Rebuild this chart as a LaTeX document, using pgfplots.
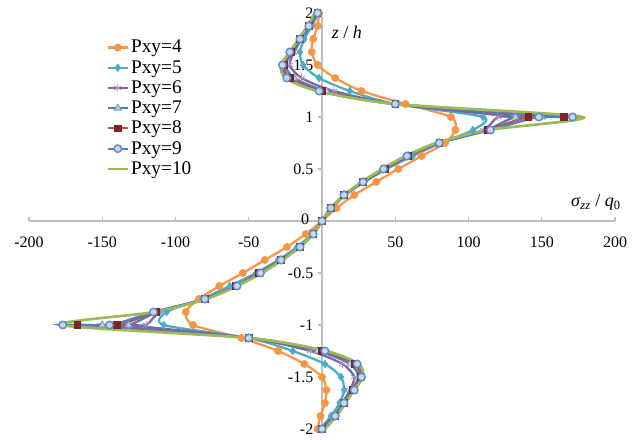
\documentclass[border=0pt]{standalone}
\usepackage{fontspec}
\setmainfont{Liberation Serif}
\usepackage{pgfplots}
\pgfplotsset{compat=1.18}
\definecolor{cA}{RGB}{247,150,70}
\definecolor{cB}{RGB}{75,172,198}
\definecolor{cC}{RGB}{128,100,162}
\definecolor{cD}{RGB}{74,126,187}
\definecolor{cDf}{RGB}{190,208,232}
\definecolor{cE}{RGB}{192,80,77}
\definecolor{cEf}{RGB}{130,35,35}
\definecolor{cF}{RGB}{79,129,189}
\definecolor{cFf}{RGB}{200,215,235}
\definecolor{cG}{RGB}{155,187,89}
\definecolor{axgray}{RGB}{190,190,190}
\begin{document}
\begin{tikzpicture}
\begin{axis}[name=ax, scale only axis, width=439.5pt, height=312pt,
  xmin=-200, xmax=200, ymin=-2, ymax=2, clip=false,
  axis lines=middle, axis line style={draw=axgray, line width=0.8pt, -},
  xtick={-200,-150,-100,-50,0,50,100,150,200},
  xticklabels={-200,-150,-100,-50,0,50,100,150,200},
  ytick={-2,-1.5,-1,-0.5,0,0.5,1,1.5,2},
  yticklabels={-2,-1.5,-1,-0.5,0,0.5,1,1.5,2},
  tick align=outside, major tick length=3pt,
  tick style={draw=axgray, line width=0.8pt},
  x tick style={yshift=3pt},
  ticklabel style={font=\fontsize{12}{14}\selectfont},
  x tick label style={yshift=-5pt},
  /pgf/number format/assume math mode=true,
  xlabel={\textit{σ}\textsubscript{\textit{zz}} / \textit{q}\textsubscript{0}},
  xlabel style={at={(axis cs:187,0.18)}, anchor=center, font=\fontsize{13.5}{15}\selectfont},
  ylabel={\textit{z} / \textit{h}},
  ylabel style={at={(axis cs:17,1.81)}, anchor=center, rotate=0, font=\fontsize{13.5}{15}\selectfont},
  legend style={at={(rel axis cs:0.132,0.94)}, anchor=north west, draw=none, fill=none,
    font=\fontsize{14.5}{15}\selectfont, inner sep=0pt, row sep=1.1pt,
    nodes={inner sep=1.5pt}},
  legend cell align=left,
  legend image code/.code={\draw[mark repeat=2,mark phase=2,#1] plot coordinates {(0cm,0cm) (0.26cm,0cm) (0.52cm,0cm)};},
  every axis plot/.append style={smooth, tension=0.45, line width=1.7pt},
]
\addplot[color=cA, mark=*, mark size=2.7pt, mark options={solid, fill=cA, line width=0.5pt}] coordinates {
(-3,-2) (-1,-1.875) (2,-1.75) (3,-1.625) (0,-1.5) (-12,-1.375) (-30,-1.25) (-55,-1.125) (-88,-1) (-93,-0.875) (-84,-0.75) (-70,-0.625) (-54,-0.5) (-39,-0.375) (-24,-0.25) (-11,-0.125) (0,0) (10,0.125) (22,0.25) (37,0.375) (52,0.5) (68,0.625) (84,0.75) (91,0.875) (88,1) (57,1.125) (27,1.25) (9,1.375) (-3,1.5) (-7,1.625) (-6,1.75) (-3,1.875) (-2,2)};
\addlegendentry{Pxy=4}
\addplot[color=cB, mark=diamond*, mark size=2.8pt, mark options={solid, fill=cB, line width=0.5pt}] coordinates {
(-1,-2) (6,-1.875) (12,-1.75) (15,-1.625) (13,-1.5) (2,-1.375) (-20,-1.25) (-50,-1.125) (-108,-1) (-106,-0.875) (-82,-0.75) (-63,-0.625) (-45,-0.5) (-30,-0.375) (-17,-0.25) (-7,-0.125) (0,0) (7,0.125) (16,0.25) (29,0.375) (44,0.5) (62,0.625) (81,0.75) (103,0.875) (110,1) (50,1.125) (19,1.25) (-2,1.375) (-13,1.5) (-15,1.625) (-12,1.75) (-7,1.875) (-2,2)};
\addlegendentry{Pxy=5}
\addplot[color=cC, mark=asterisk, mark size=3pt, mark options={solid, line width=0.6pt, draw=cC!70}] coordinates {
(-2,-2) (8,-1.875) (14,-1.75) (19,-1.625) (22,-1.5) (14,-1.375) (-8,-1.25) (-50,-1.125) (-132,-1) (-120,-1) (-110,-0.875) (-80,-0.75) (-59,-0.625) (-43,-0.5) (-28,-0.375) (-15,-0.25) (-6,-0.125) (0,0) (6,0.125) (15,0.25) (28,0.375) (43,0.5) (59,0.625) (80,0.75) (110,0.875) (120,1) (132,1) (50,1.125) (8,1.25) (-14,1.375) (-22,1.5) (-19,1.625) (-14,1.75) (-8,1.875) (-3,2)};
\addlegendentry{Pxy=6}
\addplot[color=cD, mark=triangle*, mark size=3pt, mark options={solid, fill=cDf, draw=cD!80, line width=0.6pt}] coordinates {
(0,-2) (9,-1.875) (14,-1.75) (20,-1.625) (25,-1.5) (19,-1.375) (-3,-1.25) (-50,-1.125) (-150,-1) (-132,-1) (-112,-0.875) (-80,-0.75) (-59,-0.625) (-43,-0.5) (-28,-0.375) (-15,-0.25) (-6,-0.125) (0,0) (6,0.125) (15,0.25) (28,0.375) (43,0.5) (59,0.625) (80,0.75) (112,0.875) (132,1) (150,1) (50,1.125) (3,1.25) (-19,1.375) (-25,1.5) (-20,1.625) (-14,1.75) (-9,1.875) (-3,2)};
\addlegendentry{Pxy=7}
\addplot[color=cE, mark=square*, mark size=2.4pt, mark options={solid, fill=cEf, draw=cEf, line width=0.5pt}] coordinates {
(0,-2) (9,-1.875) (15,-1.75) (21,-1.625) (26,-1.5) (22,-1.375) (0,-1.25) (-50,-1.125) (-167,-1) (-140,-1) (-113,-0.875) (-80,-0.75) (-59,-0.625) (-43,-0.5) (-28,-0.375) (-15,-0.25) (-6,-0.125) (0,0) (6,0.125) (15,0.25) (28,0.375) (43,0.5) (59,0.625) (80,0.75) (113,0.875) (141,1) (165,1) (50,1.125) (0,1.25) (-22,1.375) (-26,1.5) (-21,1.625) (-15,1.75) (-9,1.875) (-3,2)};
\addlegendentry{Pxy=8}
\addplot[color=cF, mark=*, mark size=2.8pt, mark options={solid, fill=cFf, draw=cF!90, line width=1.1pt}] coordinates {
(0,-2) (9,-1.875) (15,-1.75) (22,-1.625) (27,-1.5) (24,-1.375) (2,-1.25) (-50,-1.125) (-177,-1) (-145,-1) (-115,-0.875) (-80,-0.75) (-58,-0.625) (-42,-0.5) (-28,-0.375) (-15,-0.25) (-6,-0.125) (0,0) (6,0.125) (15,0.25) (28,0.375) (42,0.5) (58,0.625) (80,0.75) (115,0.875) (148,1) (171,1) (50,1.125) (-2,1.25) (-24,1.375) (-27,1.5) (-22,1.625) (-15,1.75) (-9,1.875) (-3,2)};
\addlegendentry{Pxy=9}
\addplot[color=cG, no markers, line width=2pt] coordinates {
(2,-2) (10,-1.875) (16,-1.75) (22,-1.625) (28,-1.5) (25,-1.375) (3,-1.25) (-50,-1.125) (-178,-1) (-114,-0.875) (-79,-0.75) (-58,-0.625) (-41,-0.5) (-27,-0.375) (-15,-0.25) (-6,-0.125) (0,0) (6,0.125) (15,0.25) (27,0.375) (41,0.5) (57,0.625) (78,0.75) (113,0.875) (178,1) (50,1.125) (-3,1.25) (-25,1.375) (-28,1.5) (-22,1.625) (-16,1.75) (-10,1.875) (-5,2)};
\addlegendentry{Pxy=10}
\node[font=\fontsize{12}{14}\selectfont] at (axis cs:-11.5,0.02) {0};
\end{axis}
\pgfresetboundingbox
\path (ax.south west) ++(-21.75pt,-7.5pt) rectangle ([shift={(17.25pt,9.75pt)}]ax.north east);
\end{tikzpicture}
\end{document}
